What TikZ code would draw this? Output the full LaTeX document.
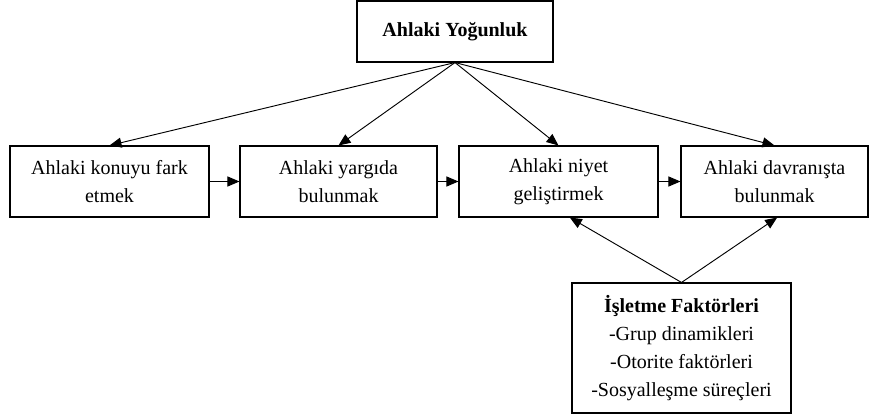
\documentclass[tikz,border=0pt]{standalone}
\usepackage{fontspec}
\setmainfont{Liberation Serif}
\usetikzlibrary{arrows.meta, positioning, calc}

\begin{document}
\begin{tikzpicture}[
                x=0.75pt, y=-0.75pt,
                >={Triangle[length=9pt, width=7.5pt]},
                font=\fontsize{15pt}{21pt}\selectfont,
                kutu/.style={draw, line width=0.8pt, align=center, inner sep=0pt,
                             minimum height=53.25pt},
                ok/.style={->, line width=0.7pt}
            ]
                % --- sayfa sinirlari ---
                \useasboundingbox (0, 0) rectangle (870, 418);

                % --- ust kutu ---
                \node[kutu, minimum width=147pt, minimum height=45.75pt, font=\fontsize{15pt}{21pt}\selectfont\bfseries]
                    (yog) at (455, 31.5) {Ahlaki Yoğunluk};

                % --- dort asama ---
                \node[kutu, minimum width=149.25pt] (fark)  at (109.5, 181.5) {Ahlaki konuyu fark\\etmek};
                \node[kutu, minimum width=147.75pt] (yargi) at (338.5, 181.5) {Ahlaki yargıda\\bulunmak};
                \node[kutu, minimum width=149.25pt] (niyet) at (558.5, 181.5) {Ahlaki niyet\\geliştirmek};
                \node[kutu, minimum width=140.25pt] (davr)  at (774.5, 181.5) {Ahlaki davranışta\\bulunmak};

                % --- alt kutu ---
                \node[kutu, minimum width=164.25pt, minimum height=97.5pt] (isl) at (681.5, 348)
                    {\textbf{İşletme Faktörleri}\\-Grup dinamikleri\\-Otorite faktörleri\\-Sosyalleşme süreçleri};

                % --- oklar ---
                \foreach \k in {fark, yargi, niyet, davr} {
                    \draw[ok] (yog.south) -- (\k.north);
                }
                \draw[ok] (fark.east)  -- (yargi.west);
                \draw[ok] (yargi.east) -- (niyet.west);
                \draw[ok] (niyet.east) -- (davr.west);

                \draw[ok] (isl.north) -- ([xshift=8.5pt]niyet.south);
                \draw[ok] (isl.north) -- ([xshift=2pt]davr.south);

            \end{tikzpicture}
\end{document}
